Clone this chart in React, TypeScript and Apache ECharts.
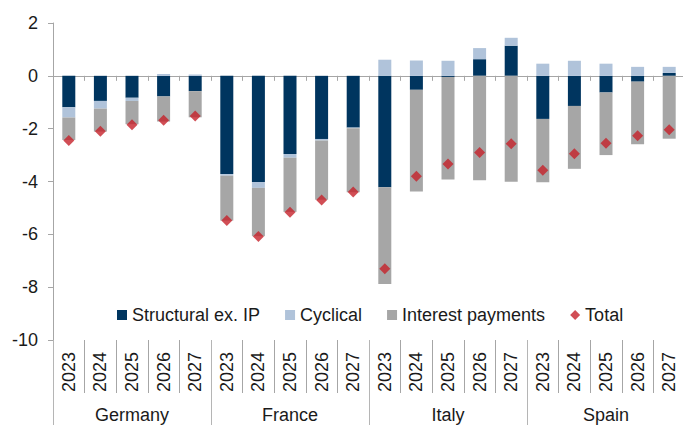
import React, { useEffect, useRef } from "react";
import * as echarts from "echarts";

const countries = ["Germany", "France", "Italy", "Spain"];
const years = ["2023", "2024", "2025", "2026", "2027"];

const structural = [-1.19, -0.95, -0.83, -0.78, -0.58, -3.72, -4.02, -2.96, -2.39, -1.96, -4.22, -0.53, -0.04, 0.63, 1.14, -1.63, -1.14, -0.63, -0.22, 0.11];
const cyclical = [-0.39, -0.29, -0.12, 0.07, 0.05, -0.06, -0.22, -0.14, -0.06, -0.02, 0.61, 0.58, 0.57, 0.42, 0.3, 0.46, 0.57, 0.46, 0.34, 0.23];
const interest = [-0.85, -0.87, -0.88, -0.95, -0.99, -1.7, -1.83, -2.05, -2.24, -2.43, -3.66, -3.85, -3.88, -3.95, -4.01, -2.4, -2.38, -2.37, -2.37, -2.38];
const total = [-2.45, -2.1, -1.85, -1.68, -1.52, -5.48, -6.08, -5.16, -4.7, -4.4, -7.3, -3.8, -3.34, -2.9, -2.57, -3.57, -2.95, -2.55, -2.27, -2.04];

const yTicks = { min: -10, max: 2, interval: 2 };

const FONT = "'Liberation Sans', Arial, sans-serif";

export default function App() {
  const ref = useRef<HTMLDivElement>(null);
  useEffect(() => {
    if (!ref.current) return;
    const chart = echarts.init(ref.current, undefined, { renderer: "svg" });
    const cats: string[] = [];
    const yearCats: string[] = [];
    countries.forEach((c) => years.forEach((y) => { cats.push(c + " " + y); yearCats.push(y); }));
    const axisGray = "#A6A6A6";
    chart.setOption({
      animation: false,
      textStyle: { fontFamily: FONT },
      grid: { left: 53, top: 23, width: 632, height: 317, outerBoundsMode: "none", containLabel: false },
      legend: {
        left: 112,
        top: 301,
        itemWidth: 10,
        itemHeight: 10,
        itemGap: 25,
        textStyle: { fontSize: 18, color: "#1a1a1a", fontFamily: FONT },
        data: [
          { name: "Structural ex. IP", icon: "rect" },
          { name: "Cyclical", icon: "rect" },
          { name: "Interest payments", icon: "rect" },
          { name: "Total", icon: "diamond" },
        ],
      },
      xAxis: [
        {
          type: "category",
          data: cats,
          position: "bottom",
          axisLine: { onZero: true, lineStyle: { color: axisGray, width: 1 } },
          axisTick: { show: true, length: 5, interval: 0, lineStyle: { color: axisGray } },
          axisLabel: { show: false },
          splitLine: { show: false },
        },
        {
          type: "category",
          data: yearCats,
          position: "bottom",
          axisLine: { show: false, onZero: false },
          axisTick: { show: true, length: 53, interval: 0, lineStyle: { color: axisGray } },
          axisLabel: { interval: 0, rotate: 90, margin: 12, fontSize: 18, color: "#1a1a1a", fontFamily: FONT },
          splitLine: { show: false },
        },
        {
          type: "category",
          data: countries,
          position: "bottom",
          axisLine: { show: false, onZero: false },
          axisTick: { show: true, length: 85, interval: 0, lineStyle: { color: "#B5B5B5" } },
          axisLabel: { interval: 0, margin: 66, fontSize: 18, color: "#1a1a1a", fontFamily: FONT },
          splitLine: { show: false },
        },
      ],
      yAxis: {
        type: "value",
        min: yTicks.min,
        max: yTicks.max,
        interval: yTicks.interval,
        axisLine: { show: true, lineStyle: { color: axisGray } },
        axisTick: { show: true, length: 5, lineStyle: { color: axisGray } },
        axisLabel: { margin: 15, fontSize: 18, color: "#1a1a1a", fontFamily: FONT },
        splitLine: { show: false },
      },
      series: [
        { name: "Structural ex. IP", type: "bar", stack: "a", barWidth: 13, xAxisIndex: 0, data: structural, itemStyle: { color: "#00355F" } },
        { name: "Cyclical", type: "bar", stack: "a", barWidth: 13, xAxisIndex: 0, data: cyclical, itemStyle: { color: "#B0C3DA" } },
        { name: "Interest payments", type: "bar", stack: "a", barWidth: 13, xAxisIndex: 0, data: interest, itemStyle: { color: "#A6A6A6" } },
        { name: "Total", type: "scatter", xAxisIndex: 0, data: total, symbol: "diamond", symbolSize: 11, itemStyle: { color: "#C5222B" }, z: 5 },
      ],
    });
    return () => chart.dispose();
  }, []);
  return <div ref={ref} style={{ position: "fixed", left: 0, top: 0, width: 683, height: 425, background: "#fff" }} />;
}
